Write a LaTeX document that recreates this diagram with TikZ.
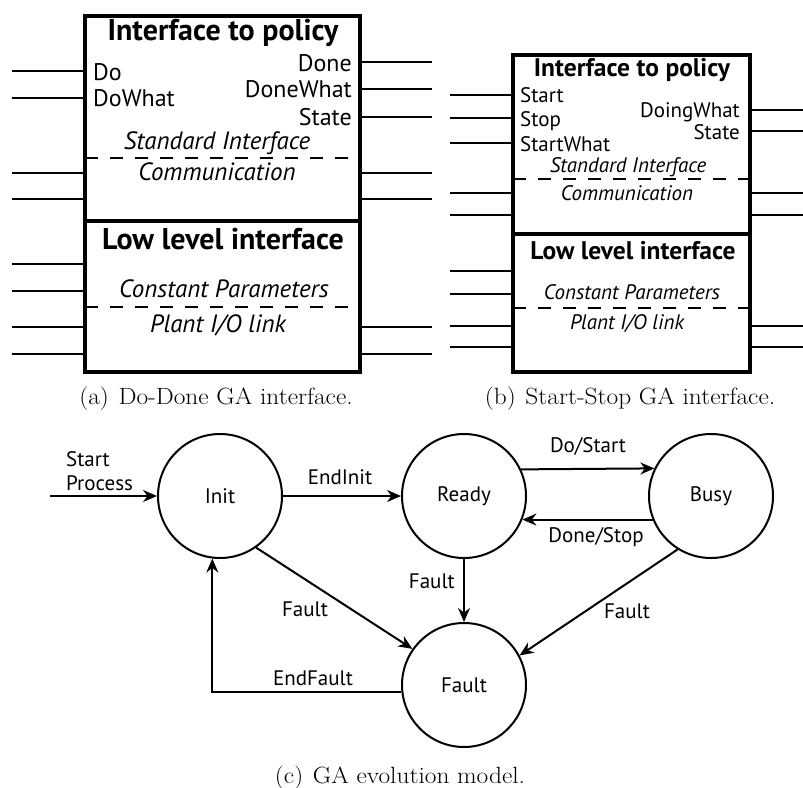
\documentclass[tikz,border=0pt]{standalone}
\usepackage{fontspec}
\setsansfont{PT Sans}
\usetikzlibrary{arrows.meta}

\tikzset{
  px/.style={x=1pt,y=-1pt},
  gabox/.style={line width=4pt},
  pin/.style={line width=2pt},
  sepline/.style={line width=1.8pt, dash pattern=on 13pt off 12pt},
  txt/.style={inner sep=0pt, text depth=0pt},
  ttlA/.style={txt, font=\sffamily\bfseries\fontsize{30}{33}\selectfont, text height=21pt},
  ttlB/.style={txt, font=\sffamily\bfseries\fontsize{25.5}{28}\selectfont, text height=18pt},
  labA/.style={txt, font=\sffamily\fontsize{24}{27}\selectfont, text height=16.5pt},
  labB/.style={txt, font=\sffamily\fontsize{21}{24}\selectfont, text height=14.5pt},
  itA/.style={txt, font=\sffamily\itshape\fontsize{25}{28}\selectfont, text height=17pt},
  itB/.style={txt, font=\sffamily\itshape\fontsize{21}{24}\selectfont, text height=14.5pt},
  capt/.style={txt, font=\rmfamily\fontsize{23.5}{26}\selectfont, text height=16pt},
  state/.style={circle, draw, line width=2pt, minimum size=124pt, inner sep=0pt,
                font=\sffamily\fontsize{21}{24}\selectfont},
  trans/.style={line width=2pt, -{Stealth[length=14pt,width=12pt]}},
  tlab/.style={txt, font=\sffamily\fontsize{21}{24}\selectfont, text height=14.5pt},
}
\newcommand\capwide[1]{\scalebox{1.08}[1]{#1}}

\begin{document}
\begin{tikzpicture}[px]
\useasboundingbox (0,0) rectangle (803,787);

% ---------- (a) Do-Done interface ----------
\foreach \y in {71,98,173,199,264,291,327,354} \draw[pin] (12,\y) -- (85,\y);
\foreach \y in {62,89,117,173,199,327,354} \draw[pin] (360,\y) -- (432,\y);
\draw[sepline] (85,158) -- (360,158);
\draw[sepline] (85,307) -- (360,307);
\draw[gabox] (85,16) rectangle (360,372);
\draw[gabox] (85,221) -- (360,221);

\node[ttlA] (aT) at (223,30) {Interface to policy};
\node[labA,anchor=west] (aDo) at (93,72) {Do};
\node[labA,anchor=west] (aDoW) at (93,98) {DoWhat};
\node[labA,anchor=east] (aDone) at (352,63) {Done};
\node[labA,anchor=east] (aDoneW) at (352,89) {DoneWhat};
\node[labA,anchor=east] (aState) at (352,117) {State};
\node[itA] (aStd) at (217,141) {Standard Interface};
\node[itA] (aCom) at (217,172) {Communication};
\node[ttlA] (aL) at (223,239) {Low level interface};
\node[itA] (aCP) at (224,289) {Constant Parameters};
\node[itA] (aPl) at (218,324) {Plant I/O link};
\node[capt] (capA) at (216,396) {\capwide{(a)\hspace{9pt}Do-Done GA interface.}};

% ---------- (b) Start-Stop interface ----------
\foreach \y in {95,118,143,193,215,271,294,326,347} \draw[pin] (450,\y) -- (513,\y);
\foreach \y in {110,131,193,215,326,347} \draw[pin] (750,\y) -- (803,\y);
\draw[sepline] (513,179) -- (750,179);
\draw[sepline] (513,308) -- (750,308);
\draw[gabox] (513,55) rectangle (750,372);
\draw[gabox] (513,234) -- (750,234);

\node[ttlB] (bT) at (632,67) {Interface to policy};
\node[labB,anchor=west] (bStart) at (520,95) {Start};
\node[labB,anchor=west] (bStop) at (520,119) {Stop};
\node[labB,anchor=west] (bStartW) at (520,144) {StartWhat};
\node[labB,anchor=east] (bDoing) at (740,110) {DoingWhat};
\node[labB,anchor=east] (bState) at (740,132) {State};
\node[itB] (bStd) at (628,165) {Standard Interface};
\node[itB] (bCom) at (627,193) {Communication};
\node[ttlB] (bL) at (633,250) {Low level interface};
\node[itB] (bCP) at (632,292) {Constant Parameters};
\node[itB] (bPl) at (627,322) {Plant I/O link};
\node[capt] (capB) at (630,396) {\capwide{(b)\hspace{9pt}Start-Stop GA interface.}};

% ---------- (c) evolution model ----------
\node[state] (init)  at (220,496) {Init};
\node[state] (ready) at (464,496) {Ready};
\node[state] (busy)  at (711,496) {Busy};
\node[state] (fault) at (464,685) {Fault};

\coordinate (sp) at (50,496);
\draw[trans] (sp) -- (init.west);
\draw[trans] (init.east) -- (ready.west);
\draw[trans] (ready.25.8) -- (busy.154.2);
\draw[trans] (busy.202.8) -- (ready.-22.8);
\draw[trans] (ready.south) -- (fault.north);
\draw[trans] (busy.238) -- (fault.28);
\draw[trans] (init.-55) -- (fault.145);
\draw[trans] (fault.186.5) -| (init.263.5);

\node[tlab,anchor=west] (lSP1) at (66,459) {Start};
\node[tlab,anchor=west] (lSP2) at (66,483) {Process};
\node[tlab] (lEI) at (340,477) {EndInit};
\node[tlab] (lDS) at (588,445) {Do/Start};
\node[tlab] (lDn) at (596,535) {Done/Stop};
\node[tlab,anchor=east] (lRF) at (455,581) {Fault};
\node[tlab] (lBF) at (627,611) {Fault};
\node[tlab] (lIF) at (305,609) {Fault};
\node[tlab] (lEF) at (313,678) {EndFault};
\node[capt] (capC) at (400,775) {\capwide{(c)\hspace{9pt}GA evolution model.}};
\end{tikzpicture}
\end{document}
